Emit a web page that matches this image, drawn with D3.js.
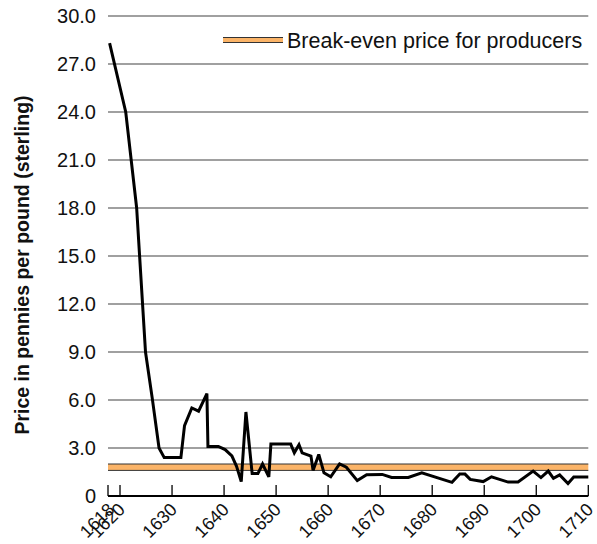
<!DOCTYPE html>
<html>
<head>
<meta charset="utf-8">
<script src="https://cdn.jsdelivr.net/npm/d3@7"></script>
<style>
  html, body { margin: 0; padding: 0; background: #fff; }
  svg { display: block; font-family: "Liberation Sans", Arial, Helvetica, sans-serif; }
</style>
</head>
<body>
<svg id="chart" width="597" height="544"></svg>
<script>
// ---- data ----
const years = [1618, 1621.1, 1623.2, 1624.9, 1626.2, 1627.5, 1628.5, 1631.7, 1632.4, 1633.8, 1635.1, 1636.7, 1636.9,
  1638.9, 1640.2, 1641.5, 1642.4, 1643.3, 1644.2, 1645.4, 1646.5, 1647.4, 1648.6, 1649.0, 1652.8, 1653.5, 1654.4,
  1655.0, 1656.7, 1657.1, 1658.2, 1659.2, 1660.5, 1662.2, 1663.5, 1665.6, 1667.4, 1670.4, 1672.2, 1675.4, 1678.0,
  1683.8, 1685.3, 1686.3, 1687.3, 1689.8, 1691.4, 1694.6, 1696.5, 1699.4, 1700.9, 1702.3, 1703.3, 1704.5, 1706.1,
  1707.2, 1710];
const prices = [28.3, 24.0, 18.0, 9.0, 6.1, 3.0, 2.4, 2.4, 4.4, 5.5, 5.3, 6.4, 3.1,
  3.1, 2.9, 2.5, 1.85, 0.9, 5.25, 1.4, 1.4, 2.0, 1.2, 3.25, 3.25, 2.7, 3.2,
  2.7, 2.5, 1.6, 2.6, 1.45, 1.2, 2.0, 1.8, 0.96, 1.33, 1.35, 1.16, 1.16, 1.45,
  0.85, 1.37, 1.37, 1.04, 0.9, 1.2, 0.87, 0.87, 1.56, 1.15, 1.56, 1.1, 1.32, 0.78,
  1.18, 1.18];
const breakEven = [1.6, 2.0];
const yTicks = [0, 3, 6, 9, 12, 15, 18, 21, 24, 27, 30];
const xTicks = [1618, 1620, 1630, 1640, 1650, 1660, 1670, 1680, 1690, 1700, 1710];
const legendLabel = "Break-even price for producers";
const yTitle = "Price in pennies per pound (sterling)";

// ---- layout ----
const svg = d3.select("#chart");
const x = d3.scaleLinear().domain([1618, 1710]).range([109.6, 588.3]);
const y = d3.scaleLinear().domain([0, 30]).range([496, 16]);
const left = 108, right = 588.3;

// gridlines
svg.append("g").selectAll("line").data(yTicks.filter(d => d > 0)).join("line")
  .attr("x1", left).attr("x2", right)
  .attr("y1", d => y(d)).attr("y2", d => y(d))
  .attr("stroke", "#a0a0a0").attr("stroke-width", 1.8);

// y tick labels
svg.append("g").selectAll("text").data(yTicks).join("text")
  .attr("x", 96).attr("y", d => y(d)).attr("dy", "0.36em")
  .attr("text-anchor", "end").attr("font-size", 20).attr("fill", "#111")
  .text(d => d === 0 ? "0" : d.toFixed(1));

// break-even band
svg.append("rect")
  .attr("x", left).attr("width", right - left)
  .attr("y", y(breakEven[1])).attr("height", y(breakEven[0]) - y(breakEven[1]))
  .attr("fill", "#fbb468");
svg.append("g").selectAll("line").data(breakEven).join("line")
  .attr("x1", left).attr("x2", right).attr("y1", d => y(d)).attr("y2", d => y(d))
  .attr("stroke", "#333").attr("stroke-width", 1);

// price line
const line = d3.line().x((d, i) => x(years[i])).y(d => y(d));
svg.append("path").datum(prices)
  .attr("d", line).attr("fill", "none").attr("stroke", "#000")
  .attr("stroke-width", 3).attr("stroke-linejoin", "miter").attr("stroke-miterlimit", 3);

// x axis
svg.append("line").attr("x1", left).attr("x2", right).attr("y1", y(0)).attr("y2", y(0))
  .attr("stroke", "#000").attr("stroke-width", 2);
svg.append("g").selectAll("line").data(xTicks).join("line")
  .attr("x1", d => d === 1618 ? left : x(d)).attr("x2", d => d === 1618 ? left : x(d))
  .attr("y1", y(0)).attr("y2", y(0) - 11)
  .attr("stroke", "#000").attr("stroke-width", 1.3);
svg.append("g").selectAll("text").data(xTicks).join("text")
  .attr("transform", d => `translate(${x(d) + 1.5},${y(0) + 10}) rotate(-45)`)
  .attr("text-anchor", "end").attr("dy", "0.36em").attr("font-size", 18).attr("fill", "#111")
  .text(d => d);

// y title
svg.append("text")
  .attr("transform", `translate(22,265) rotate(-90)`)
  .attr("text-anchor", "middle").attr("dy", "0.36em")
  .attr("font-size", 19.5).attr("font-weight", "bold").attr("fill", "#111")
  .text(yTitle);

// legend
const lg = svg.append("g");
lg.append("rect").attr("x", 223).attr("y", 37.5).attr("width", 60).attr("height", 5).attr("fill", "#fbb468");
lg.selectAll("line").data([37.5, 42.5]).join("line")
  .attr("x1", 223).attr("x2", 283).attr("y1", d => d).attr("y2", d => d)
  .attr("stroke", "#333").attr("stroke-width", 1);
lg.append("text").attr("x", 287).attr("y", 40).attr("dy", "0.36em")
  .attr("font-size", 21.5).attr("fill", "#111").text(legendLabel);
</script>
</body>
</html>
